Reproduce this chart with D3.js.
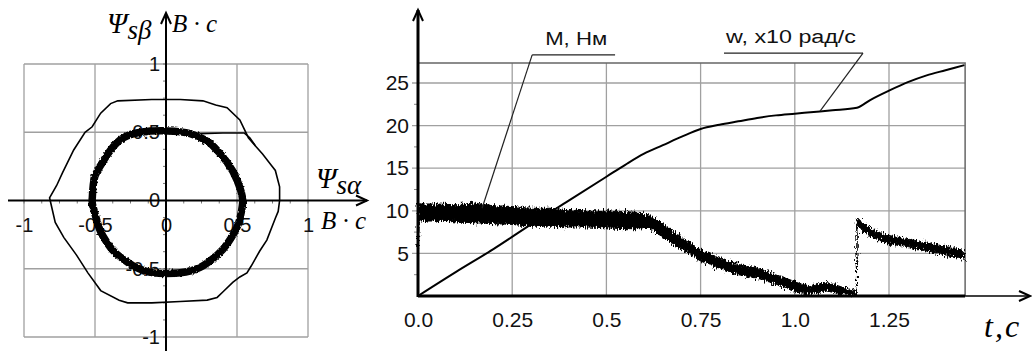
<!DOCTYPE html>
<html>
<head>
<meta charset="utf-8">
<script src="https://cdn.jsdelivr.net/npm/d3@7"></script>
<style>
  body { margin: 0; background: #fff; }
  svg { display: block; font-family: Arial, "Liberation Sans", sans-serif; }
</style>
</head>
<body>
<svg id="chart" width="1032" height="351"></svg>
<script>
// ---- left plot: stator flux hodograph (psi_s alpha / psi_s beta, V*s)
const fluxTicks = [-1, -0.5, 0, 0.5, 1];
const fluxTickLabels = ['-1', '-0.5', '0', '0.5', '1'];

// thin outer trajectory
const fluxOuter = [
  [0.80, 0.00], [0.79, -0.08], [0.77, -0.13], [0.71, -0.29], [0.66, -0.37],
  [0.60, -0.48], [0.57, -0.53], [0.52, -0.56], [0.47, -0.60], [0.40, -0.67],
  [0.36, -0.71], [0.29, -0.73], [0.10, -0.74], [-0.10, -0.75], [-0.27, -0.75],
  [-0.33, -0.73], [-0.46, -0.66], [-0.55, -0.53], [-0.63, -0.40], [-0.72, -0.27],
  [-0.78, -0.16], [-0.82, 0.02], [-0.77, 0.11], [-0.73, 0.20], [-0.65, 0.37],
  [-0.57, 0.50], [-0.52, 0.54], [-0.46, 0.64], [-0.39, 0.71], [-0.34, 0.73],
  [-0.10, 0.74], [0.10, 0.74], [0.26, 0.73], [0.35, 0.70], [0.43, 0.68],
  [0.52, 0.59], [0.58, 0.46], [0.63, 0.40], [0.68, 0.34], [0.74, 0.26],
  [0.77, 0.22], [0.80, 0.10], [0.80, 0.00]
];

// thick inner trajectory
const fluxInner = [
  [0.01, 0.51], [0.17, 0.49], [0.31, 0.42], [0.43, 0.28], [0.50, 0.15],
  [0.54, 0.00], [0.51, -0.17], [0.43, -0.32], [0.36, -0.40], [0.24, -0.49],
  [0.10, -0.53], [-0.09, -0.53], [-0.23, -0.48], [-0.37, -0.37], [-0.46, -0.23],
  [-0.51, -0.06], [-0.52, 0.00], [-0.50, 0.18], [-0.39, 0.37], [-0.30, 0.46],
  [-0.18, 0.50]
];

// transition from inner to outer trajectory
const fluxStep = [[0.24, 0.49], [0.40, 0.495], [0.55, 0.495], [0.59, 0.46], [0.63, 0.40]];

// ---- right plot: transients over time t, s
const timeTicks = [0, 0.25, 0.5, 0.75, 1.0, 1.25];
const timeTickLabels = ['0.0', '0.25', '0.5', '0.75', '1.0', '1.25'];
const valueTicks = [5, 10, 15, 20, 25];
const timeEnd = 1.452;
const valueTop = 27.35;

// w, x10 rad/s
const speed = [
  [0, 0], [0.1, 2.8], [0.2, 5.5], [0.3, 8.4], [0.4, 11.2], [0.5, 14.0],
  [0.55, 15.4], [0.6, 16.7], [0.65, 17.7], [0.7, 18.7], [0.75, 19.6],
  [0.8, 20.1], [0.85, 20.5], [0.9, 20.9], [0.95, 21.2], [1.0, 21.4],
  [1.05, 21.6], [1.1, 21.8], [1.165, 22.1], [1.2, 23.0], [1.25, 24.1],
  [1.3, 25.1], [1.35, 25.9], [1.4, 26.5], [1.45, 27.1]
];

// M, Nm: noisy band [t, low, high]
const torque = [
  [0.000, 5.5, 11.0], [0.004, 8.8, 10.8], [0.05, 8.8, 10.8], [0.1, 8.7, 10.7],
  [0.15, 8.6, 10.9], [0.2, 8.5, 10.6], [0.25, 8.4, 10.5], [0.3, 8.2, 10.3],
  [0.35, 8.2, 10.3], [0.4, 8.1, 10.1], [0.45, 8.1, 10.0], [0.5, 8.0, 10.0],
  [0.55, 7.9, 9.9], [0.59, 7.9, 9.8], [0.62, 7.8, 9.3], [0.65, 6.9, 8.5],
  [0.7, 5.5, 6.9], [0.75, 4.1, 5.4], [0.8, 3.2, 4.5], [0.85, 2.5, 3.7],
  [0.9, 2.1, 3.3], [0.95, 1.4, 2.5], [1.0, 0.5, 1.7], [1.04, 0.2, 1.1],
  [1.08, 0.6, 1.6], [1.12, 0.3, 1.2], [1.163, 0.1, 0.6], [1.166, 8.2, 9.2],
  [1.17, 8.0, 9.0], [1.19, 7.3, 8.3], [1.21, 6.8, 7.7], [1.25, 6.1, 7.1],
  [1.3, 5.8, 6.7], [1.35, 5.3, 6.3], [1.4, 4.8, 5.8], [1.45, 4.3, 5.3]
];

// labels with leader lines: text origin [t, v], underline end t, pointed point [t, v]
const callouts = [
  { text: 'M, Нм', at: [0.303, 28.3], underlineTo: 0.523, width: 62, target: [0.17, 10.3], anchorLeft: true },
  { text: 'w, x10 рад/с', at: [0.812, 28.5], underlineTo: 1.181, width: 130, target: [1.067, 21.7], anchorLeft: false }
];

const svg = d3.select('#chart');
const grid = '#a0a0a0';

function arrowHead(g, x, y, dir) {
  // open V arrow; dir 'up' or 'right'
  const p = dir === 'up'
    ? `M${x - 5},${y + 11}L${x},${y}L${x + 5},${y + 11}`
    : `M${x - 11},${y - 5}L${x},${y}L${x - 11},${y + 5}`;
  g.append('path').attr('d', p).attr('fill', 'none').attr('stroke', '#000').attr('stroke-width', 2);
}

// filters for the noisy traces
const defs = svg.append('defs');
function roughFilter(id, freq, scale, seed) {
  const f = defs.append('filter').attr('id', id)
    .attr('x', '-5%').attr('y', '-30%').attr('width', '110%').attr('height', '160%');
  f.append('feTurbulence').attr('type', 'fractalNoise').attr('baseFrequency', freq)
    .attr('numOctaves', 2).attr('seed', seed).attr('result', 'n');
  f.append('feDisplacementMap').attr('in', 'SourceGraphic').attr('in2', 'n')
    .attr('scale', scale).attr('xChannelSelector', 'R').attr('yChannelSelector', 'G');
}
roughFilter('rough', '0.9 0.25', 9, 4);
roughFilter('roughSoft', '0.5 0.5', 3, 7);

// ================= LEFT =================
const fx = d3.scaleLinear().domain([-1, 1]).range([24, 308]);
const fy = d3.scaleLinear().domain([-1, 1]).range([337, 64]);
const left = svg.append('g');

// grid
left.append('g').selectAll('line.v')
  .data(fluxTicks.filter(d => d !== 0))
  .join('line')
  .attr('x1', d => fx(d)).attr('x2', d => fx(d))
  .attr('y1', fy(-1)).attr('y2', fy(1))
  .attr('stroke', grid).attr('stroke-width', 1.3);
left.append('g').selectAll('line.h')
  .data(fluxTicks.filter(d => d !== 0))
  .join('line')
  .attr('x1', fx(-1)).attr('x2', fx(1))
  .attr('y1', d => fy(d)).attr('y2', d => fy(d))
  .attr('stroke', grid).attr('stroke-width', 1.3);

// minor ticks on both axes
const minor = d3.range(-1, 1.001, 0.125);
left.append('g').selectAll('line')
  .data(minor)
  .join('line')
  .attr('x1', d => fx(d)).attr('x2', d => fx(d))
  .attr('y1', fy(0)).attr('y2', fy(0) + 3)
  .attr('stroke', '#777');
left.append('g').selectAll('line')
  .data(minor)
  .join('line')
  .attr('x1', fx(0) - 3).attr('x2', fx(0))
  .attr('y1', d => fy(d)).attr('y2', d => fy(d))
  .attr('stroke', '#777');

// tick labels
const fmtFlux = d => fluxTickLabels[fluxTicks.indexOf(d)];
left.append('g')
  .attr('transform', `translate(0,${fy(0)})`)
  .call(d3.axisBottom(fx).tickValues(fluxTicks).tickSize(0).tickPadding(17).tickFormat(fmtFlux))
  .call(g => g.select('.domain').remove())
  .selectAll('text')
  .style('font-size', '20px').style('font-family', 'Arial, "Liberation Sans", sans-serif')
  .attr('fill', '#111');
left.append('g')
  .attr('transform', `translate(${fx(0)},0)`)
  .call(d3.axisLeft(fy).tickValues(fluxTicks).tickSize(0).tickPadding(6).tickFormat(fmtFlux))
  .call(g => g.select('.domain').remove())
  .selectAll('text')
  .style('font-size', '20px').style('font-family', 'Arial, "Liberation Sans", sans-serif')
  .attr('fill', '#111');

// trajectories
const fluxLine = d3.line().x(d => fx(d[0])).y(d => fy(d[1]));
left.append('path')
  .attr('d', fluxLine(fluxOuter))
  .attr('fill', 'none').attr('stroke', '#000').attr('stroke-width', 1.6);
left.append('path')
  .attr('d', fluxLine(fluxStep))
  .attr('fill', 'none').attr('stroke', '#000').attr('stroke-width', 1.6);
left.append('path')
  .attr('d', d3.line().x(d => fx(d[0])).y(d => fy(d[1])).curve(d3.curveCardinalClosed.tension(0.3))(fluxInner))
  .attr('fill', 'none').attr('stroke', '#000').attr('stroke-width', 7.5)
  .attr('filter', 'url(#roughSoft)');

// axes
left.append('line')
  .attr('x1', 8).attr('x2', 367).attr('y1', fy(0)).attr('y2', fy(0))
  .attr('stroke', '#000').attr('stroke-width', 2);
arrowHead(left, 367, fy(0), 'right');
left.append('line')
  .attr('x1', fx(0)).attr('x2', fx(0)).attr('y1', 351).attr('y2', 13)
  .attr('stroke', '#000').attr('stroke-width', 2);
arrowHead(left, fx(0), 13, 'up');

// axis titles
const serif = '"Liberation Serif", "Times New Roman", serif';
function psiLabel(g, x, y, sub) {
  const t = g.append('text').attr('x', x).attr('y', y)
    .style('font-family', serif).style('font-style', 'italic');
  t.append('tspan').style('font-size', '29px').text('Ψ');
  t.append('tspan').style('font-size', '27px').attr('dy', 6).text(sub);
}
psiLabel(left, 107, 33, 'sβ');
psiLabel(left, 316, 188, 'sα');
left.append('text').attr('x', 172).attr('y', 32)
  .style('font-family', serif).style('font-style', 'italic').style('font-size', '25px')
  .text('B · c');
left.append('text').attr('x', 321).attr('y', 229)
  .style('font-family', serif).style('font-style', 'italic').style('font-size', '25px')
  .text('B · c');

// ================= RIGHT =================
const tx = d3.scaleLinear().domain([0, 1.25]).range([418, 889]);
const vy = d3.scaleLinear().domain([0, 25]).range([296, 83]);
const right = svg.append('g');

// grid
right.append('g').selectAll('line')
  .data(valueTicks)
  .join('line')
  .attr('x1', tx(0) - 6).attr('x2', tx(timeEnd))
  .attr('y1', d => vy(d)).attr('y2', d => vy(d))
  .attr('stroke', grid).attr('stroke-width', 1.3);
right.append('g').selectAll('line')
  .data(timeTicks.filter(d => d > 0))
  .join('line')
  .attr('x1', d => tx(d)).attr('x2', d => tx(d))
  .attr('y1', vy(0)).attr('y2', vy(valueTop))
  .attr('stroke', grid).attr('stroke-width', 1.3);
// frame top / right
right.append('path')
  .attr('d', `M${tx(0)},${vy(valueTop)}H${tx(timeEnd)}V${vy(0)}`)
  .attr('fill', 'none').attr('stroke', '#666').attr('stroke-width', 1.5);

// minor ticks on value axis
right.append('g').selectAll('line')
  .data(d3.range(2.5, valueTop, 5))
  .join('line')
  .attr('x1', tx(0) - 4).attr('x2', tx(0))
  .attr('y1', d => vy(d)).attr('y2', d => vy(d))
  .attr('stroke', '#888');

// tick labels
right.append('g')
  .attr('transform', `translate(${tx(0)},0)`)
  .call(d3.axisLeft(vy).tickValues(valueTicks).tickSize(0).tickPadding(9))
  .call(g => g.select('.domain').remove())
  .selectAll('text')
  .style('font-size', '21px').style('font-family', 'Arial, "Liberation Sans", sans-serif')
  .attr('fill', '#111');
right.append('g')
  .attr('transform', `translate(0,${vy(0)})`)
  .call(d3.axisBottom(tx).tickValues(timeTicks).tickSize(0).tickPadding(16)
    .tickFormat(d => timeTickLabels[timeTicks.indexOf(d)]))
  .call(g => g.select('.domain').remove())
  .selectAll('text')
  .style('font-size', '21px').style('font-family', 'Arial, "Liberation Sans", sans-serif')
  .attr('fill', '#111');

// noisy torque band
right.append('path')
  .attr('d', d3.area().x(d => tx(d[0])).y0(d => vy(d[1])).y1(d => vy(d[2]))(torque))
  .attr('fill', '#000').attr('stroke', '#000').attr('stroke-width', 1)
  .attr('filter', 'url(#rough)');

// speed
right.append('path')
  .attr('d', d3.line().x(d => tx(d[0])).y(d => vy(d[1])).curve(d3.curveMonotoneX)(speed))
  .attr('fill', 'none').attr('stroke', '#000').attr('stroke-width', 2);

// callouts
callouts.forEach(c => {
  const x0 = tx(c.at[0]);
  const x1 = tx(c.underlineTo);
  const yLine = vy(c.at[1]);
  right.append('text')
    .attr('x', c.anchorLeft ? x0 + 13 : x0 + 2)
    .attr('y', yLine - 10)
    .attr('textLength', c.width).attr('lengthAdjust', 'spacingAndGlyphs')
    .style('font-size', '18px')
    .attr('fill', '#111')
    .text(c.text);
  right.append('line')
    .attr('x1', x0).attr('x2', x1).attr('y1', yLine).attr('y2', yLine)
    .attr('stroke', '#222').attr('stroke-width', 1.2);
  const xs = c.anchorLeft ? x0 : x1;
  right.append('line')
    .attr('x1', xs).attr('y1', yLine)
    .attr('x2', tx(c.target[0])).attr('y2', vy(c.target[1]))
    .attr('stroke', '#222').attr('stroke-width', 1.2);
});

// axes
right.append('line')
  .attr('x1', tx(0)).attr('x2', tx(timeEnd)).attr('y1', vy(0)).attr('y2', vy(0))
  .attr('stroke', '#000').attr('stroke-width', 3);
right.append('line')
  .attr('x1', tx(timeEnd)).attr('x2', 1030).attr('y1', vy(0)).attr('y2', vy(0))
  .attr('stroke', '#000').attr('stroke-width', 1.5);
arrowHead(right, 1030, vy(0), 'right');
right.append('line')
  .attr('x1', tx(0)).attr('x2', tx(0)).attr('y1', vy(0) + 1).attr('y2', 10)
  .attr('stroke', '#000').attr('stroke-width', 3);
arrowHead(right, tx(0), 10, 'up');

right.append('text').attr('x', 984).attr('y', 337)
  .style('font-family', serif).style('font-style', 'italic').style('font-size', '32px')
  .style('letter-spacing', '2px')
  .text('t,c');
</script>
</body>
</html>
